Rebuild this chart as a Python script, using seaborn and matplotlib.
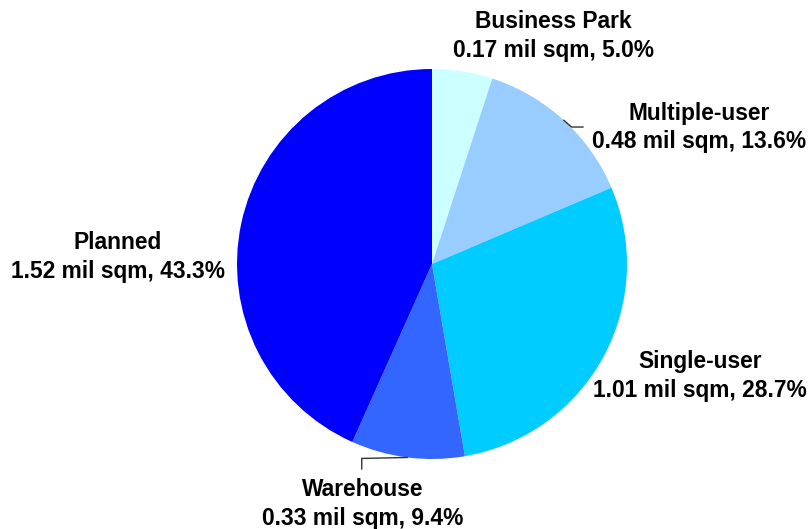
import numpy as np
import matplotlib
matplotlib.use("Agg")
import matplotlib.pyplot as plt
import seaborn as sns

# data
categories = ["Business Park", "Multiple-user", "Single-user", "Warehouse", "Planned"]
area_mil_sqm = [0.17, 0.48, 1.01, 0.33, 1.52]
share_pct = [5.0, 13.6, 28.7, 9.4, 43.3]
colors = ["#CCFFFF", "#99CCFF", "#00CCFF", "#3366FF", "#0000FF"]

sns.set_theme(style="white")
plt.rcParams["font.family"] = ["Liberation Sans", "DejaVu Sans"]

W, H = 810, 529
cx, cy, R = 432, 264, 195  # pie centre / radius in pixels

fig = plt.figure(figsize=(W / 100, H / 100), dpi=100)
ax = fig.add_axes([0, 0, 1, 1])

wedges, _ = ax.pie(share_pct, colors=colors, startangle=90, counterclock=False,
                   radius=1, center=(0, 0), frame=True,
                   wedgeprops=dict(linewidth=0))
ax.set_xlim(-cx / R, (W - cx) / R)
ax.set_ylim(-(H - cy) / R, cy / R)
ax.set_aspect("equal")
ax.axis("off")

# label centres (data units, pie radius = 1)
label_pos = {
    "Business Park": (0.622, 1.169),
    "Multiple-user": (1.372, 0.700),
    "Single-user": (1.375, -0.574),
    "Warehouse": (-0.354, -1.231),
    "Planned": (-1.612, 0.036),
}

for cat, a, p in zip(categories, area_mil_sqm, share_pct):
    x, y = label_pos[cat]
    ax.text(x, y, f"{cat}\n{a:.2f} mil sqm, {p:.1f}%", ha="center", va="center",
            fontsize=16.4, fontweight="bold", color="black", linespacing=1.3)

# leader lines for the two labels set away from their wedges
def mid_edge(i):
    w = wedges[i]
    ang = np.deg2rad((w.theta1 + w.theta2) / 2)
    return np.cos(ang), np.sin(ang)

x0, y0 = mid_edge(categories.index("Multiple-user"))
ax.plot([x0, x0 + 0.04, x0 + 0.10], [y0, y0 - 0.035, y0 - 0.035],
        color="#333333", lw=1)

x0, y0 = mid_edge(categories.index("Warehouse"))
ax.plot([x0, x0 - 0.235, x0 - 0.235], [y0, y0 - 0.005, y0 - 0.06],
        color="#333333", lw=1)

fig.savefig("out.png", dpi=100)
